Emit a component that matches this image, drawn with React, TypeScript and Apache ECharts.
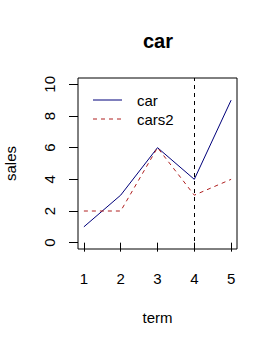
import React, { useEffect, useRef } from "react";
import * as echarts from "echarts";

const terms = [1, 2, 3, 4, 5];
const car = [1, 3, 6, 4, 9];
const cars2 = [2, 2, 6, 3, 4];
const xTicks = [1, 2, 3, 4, 5];
const yTicks = [0, 2, 4, 6, 8, 10];
const markX = 4;

export default function App() {
  const ref = useRef<HTMLDivElement>(null);
  useEffect(() => {
    const chart = echarts.init(ref.current!, null, { renderer: "svg" });
    const font = "Arial, 'Liberation Sans', sans-serif";
    chart.setOption({
      animation: false,
      backgroundColor: "#ffffff",
      grid: {
        left: 78,
        right: 41,
        top: 78,
        bottom: 98,
        containLabel: false,
        outerBoundsMode: "none",
        show: true,
        borderColor: "#000",
        borderWidth: 1,
        backgroundColor: "transparent",
      },
      xAxis: {
        type: "value",
        min: 0.84,
        max: 5.16,
        name: "term",
        nameLocation: "middle",
        nameGap: 61,
        nameTextStyle: { fontSize: 15, color: "#000", fontFamily: font },
        axisLine: { show: false },
        axisTick: {
          show: true,
          length: 9,
          lineStyle: { color: "#000", width: 1 },
          customValues: xTicks,
        },
        axisLabel: {
          margin: 22,
          fontSize: 15,
          color: "#000",
          fontFamily: font,
          customValues: xTicks,
        },
        splitLine: { show: false },
      },
      yAxis: {
        type: "value",
        min: -0.4,
        max: 10.4,
        name: "sales",
        nameLocation: "middle",
        nameRotate: 90,
        nameGap: 60,
        nameTextStyle: { fontSize: 15, color: "#000", fontFamily: font },
        axisLine: { show: false },
        axisTick: {
          show: true,
          length: 9,
          lineStyle: { color: "#000", width: 1 },
          customValues: yTicks,
        },
        axisLabel: {
          margin: 21,
          rotate: 90,
          fontSize: 15,
          color: "#000",
          fontFamily: font,
          customValues: yTicks,
        },
        splitLine: { show: false },
      },
      series: [
        {
          name: "car",
          type: "line",
          data: terms.map((t, i) => [t, car[i]]),
          showSymbol: false,
          symbol: "none",
          lineStyle: { color: "#00007a", width: 1 },
          silent: true,
          markLine: {
            silent: true,
            symbol: "none",
            label: { show: false },
            lineStyle: { color: "#000", width: 1, type: [4, 4] },
            data: [{ xAxis: markX }],
          },
        },
        {
          name: "cars2",
          type: "line",
          data: terms.map((t, i) => [t, cars2[i]]),
          showSymbol: false,
          symbol: "none",
          lineStyle: { color: "#b02020", width: 1, type: [4, 4] },
          silent: true,
        },
      ],
      graphic: [
        {
          type: "text",
          x: 158,
          y: 41,
          style: {
            text: "car",
            fontSize: 20,
            fontWeight: "bold",
            fontFamily: font,
            fill: "#000",
            align: "center",
            verticalAlign: "middle",
          },
        },
        {
          type: "line",
          shape: { x1: 93, y1: 100, x2: 122, y2: 100 },
          style: { stroke: "#00007a", lineWidth: 1 },
        },
        {
          type: "text",
          x: 137,
          y: 100,
          style: {
            text: "car",
            fontSize: 15,
            fontFamily: font,
            fill: "#000",
            align: "left",
            verticalAlign: "middle",
          },
        },
        {
          type: "line",
          shape: { x1: 93, y1: 119, x2: 122, y2: 119 },
          style: { stroke: "#b02020", lineWidth: 1, lineDash: [4, 4] },
        },
        {
          type: "text",
          x: 137,
          y: 119,
          style: {
            text: "cars2",
            fontSize: 15,
            fontFamily: font,
            fill: "#000",
            align: "left",
            verticalAlign: "middle",
          },
        },
      ],
    });
    return () => chart.dispose();
  }, []);
  return (
    <div
      ref={ref}
      style={{ position: "fixed", left: 0, top: 0, width: 278, height: 347 }}
    />
  );
}
